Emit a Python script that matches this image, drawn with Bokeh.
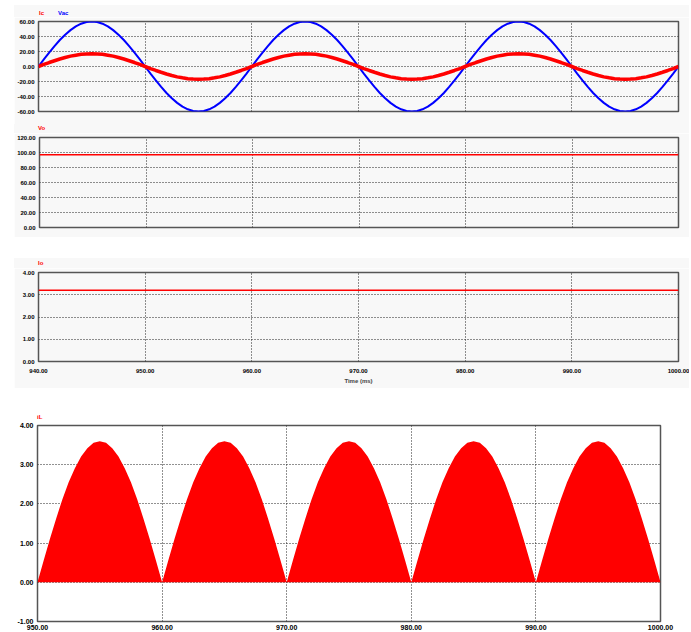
from bokeh.plotting import figure
from bokeh.models import Range1d, FixedTicker, PrintfTickFormatter, Spacer, Div
from bokeh.layouts import column, row
from bokeh.embed import file_html
from bokeh.resources import INLINE

# ---------------- data ----------------
# sampled every 0.5 ms, one 20 ms cycle
vac_cycle = [0, 9.4, 18.5, 27.2, 35.3, 42.4, 48.5, 53.5, 57.1, 59.3,
             60.0, 59.3, 57.1, 53.5, 48.5, 42.4, 35.3, 27.2, 18.5, 9.4,
             0, -9.4, -18.5, -27.2, -35.3, -42.4, -48.5, -53.5, -57.1, -59.3,
             -60.0, -59.3, -57.1, -53.5, -48.5, -42.4, -35.3, -27.2, -18.5, -9.4]
ic_cycle = [0, 2.7, 5.3, 7.7, 10.0, 12.0, 13.8, 15.1, 16.2, 16.8,
            17.0, 16.8, 16.2, 15.1, 13.8, 12.0, 10.0, 7.7, 5.3, 2.7,
            0, -2.7, -5.3, -7.7, -10.0, -12.0, -13.8, -15.1, -16.2, -16.8,
            -17.0, -16.8, -16.2, -15.1, -13.8, -12.0, -10.0, -7.7, -5.3, -2.7]
t_top = [940 + 0.5 * k for k in range(121)]
vac = vac_cycle * 3 + [0]
ic = ic_cycle * 3 + [0]

vo_level = 97.0
io_level = 3.2

# rectified inductor current, one 10 ms hump sampled every 0.5 ms
il_hump = [0, 0.56, 1.11, 1.63, 2.12, 2.55, 2.91, 3.21, 3.42, 3.56,
           3.60, 3.56, 3.42, 3.21, 2.91, 2.55, 2.12, 1.63, 1.11, 0.56]
t_bot = [950 + 0.5 * k for k in range(101)]
il = il_hump * 5 + [0]

x_ticks_top = [940, 950, 960, 970, 980, 990, 1000]
x_ticks_bot = [950, 960, 970, 980, 990, 1000]
y_ticks_1 = [-60, -40, -20, 0, 20, 40, 60]
y_ticks_2 = [0, 20, 40, 60, 80, 100, 120]
y_ticks_3 = [0, 1, 2, 3, 4]
y_ticks_4 = [-1, 0, 1, 2, 3, 4]

series_names_1 = ["Ic", "Vac"]
series_name_2 = "Vo"
series_name_3 = "Io"
series_name_4 = "iL"
x_title = "Time (ms)"

# ---------------- styling ----------------
GRAY = "#f8f8f8"
FONT = "Liberation Sans"
OUT = "#555555"
RED = "#ff0000"
BLUE = "#0000ff"
LEFT = 14
W = 675


def make_fig(height, xr, yr, xt, yt, bg, bl, br, bt, bb, fs, show_x):
    p = figure(width=W, height=height,
               x_range=Range1d(*xr), y_range=Range1d(*yr),
               output_backend="svg", toolbar_location=None, title=None,
               min_border=0,
               min_border_left=bl, min_border_right=br,
               min_border_top=bt, min_border_bottom=bb,
               background_fill_color=bg, border_fill_color=bg)
    p.outline_line_color = OUT
    p.outline_line_width = 1.5
    p.outline_line_alpha = 1.0
    for ax, ticks in ((p.xaxis, xt), (p.yaxis, yt)):
        ax.ticker = FixedTicker(ticks=ticks)
        ax.formatter = PrintfTickFormatter(format="%.2f")
        ax.axis_line_color = None
        ax.major_tick_line_color = None
        ax.minor_tick_line_color = None
        ax.major_tick_out = 0
        ax.major_tick_in = 0
        ax.minor_tick_out = 0
        ax.minor_tick_in = 0
        ax.major_label_text_font = FONT
        ax.major_label_text_font_style = "bold"
        ax.major_label_text_font_size = fs
        ax.major_label_text_color = "black"
    p.yaxis.major_label_standoff = 4
    p.xaxis.major_label_standoff = 7
    p.xgrid.ticker = FixedTicker(ticks=xt)
    p.ygrid.ticker = FixedTicker(ticks=yt)
    for g in (p.xgrid, p.ygrid):
        g.grid_line_color = "#222222"
        g.grid_line_dash = "1 2"
        g.grid_line_width = 1
        g.grid_line_alpha = 1.0
    if not show_x:
        p.xaxis.visible = False
    return p


def header(height, bg, pad_left, pad_top, line_h, names, colors, gaps, white_top=0):
    spans = "".join(
        f'<span style="color:{c};margin-left:{g}px">{n}</span>'
        for n, c, g in zip(names, colors, gaps))
    background = (f"linear-gradient(to right, white {LEFT}px, transparent {LEFT}px), "
                  f"linear-gradient(to bottom, white {white_top}px, {bg} {white_top}px)")
    return Div(text=spans, width=LEFT + W, height=height,
               styles={"background": background,
                       "font-family": FONT,
                       "font-weight": "bold",
                       "font-size": "6px",
                       "line-height": f"{line_h}px",
                       "padding-left": f"{pad_left}px",
                       "padding-top": f"{pad_top}px",
                       "box-sizing": "border-box",
                       "white-space": "nowrap",
                       "overflow": "visible",
                       "margin": "0px"})


# panel 1: Ic and Vac
p1 = make_fig(107, (940, 1000), (-60, 60), x_ticks_top, y_ticks_1,
              GRAY, 24, 11, 4, 13, "6px", False)
p1.line(t_top, vac, line_color=BLUE, line_width=2)
p1.line(t_top, ic, line_color=RED, line_width=3.5)
h1 = header(17, GRAY, 39, 9, 9, series_names_1, [RED, BLUE], [0, 14], white_top=5)

# panel 2: Vo
p2 = make_fig(104, (940, 1000), (0, 120), x_ticks_top, y_ticks_2,
              GRAY, 24, 11, 4, 10, "6px", False)
p2.line([t_top[0], t_top[-1]], [vo_level, vo_level], line_color=RED, line_width=1.5)
h2 = header(9, GRAY, 38, 0, 9, [series_name_2], [RED], [0])

# panel 3: Io
p3 = make_fig(120, (940, 1000), (0, 4), x_ticks_top, y_ticks_3,
              GRAY, 24, 11, 4, 27, "6px", True)
p3.line([t_top[0], t_top[-1]], [io_level, io_level], line_color=RED, line_width=1.5)
p3.xaxis.axis_label = x_title
p3.xaxis.axis_label_text_font = FONT
p3.xaxis.axis_label_text_font_style = "bold"
p3.xaxis.axis_label_text_font_size = "6px"
p3.xaxis.axis_label_standoff = 2
h3 = header(10, GRAY, 38, 0, 10, [series_name_3], [RED], [0])

# panel 4: iL
p4 = make_fig(212, (950, 1000), (-1, 4), x_ticks_bot, y_ticks_4,
              "white", 23, 29, 5, 10, "7px", True)
p4.xaxis.major_label_standoff = 3
p4.varea(x=t_bot, y1=[0] * len(t_bot), y2=il, fill_color=RED, fill_alpha=1.0)
h4 = header(32, "white", 37, 25, 9, [series_name_4], [RED], [0])

layout = column(
    h1,
    row(Spacer(width=LEFT), p1),
    h2,
    row(Spacer(width=LEFT), p2),
    Spacer(height=21),
    h3,
    row(Spacer(width=LEFT), p3),
    h4,
    row(Spacer(width=LEFT), p4),
)

open("out.html", "w").write(file_html(layout, INLINE))
